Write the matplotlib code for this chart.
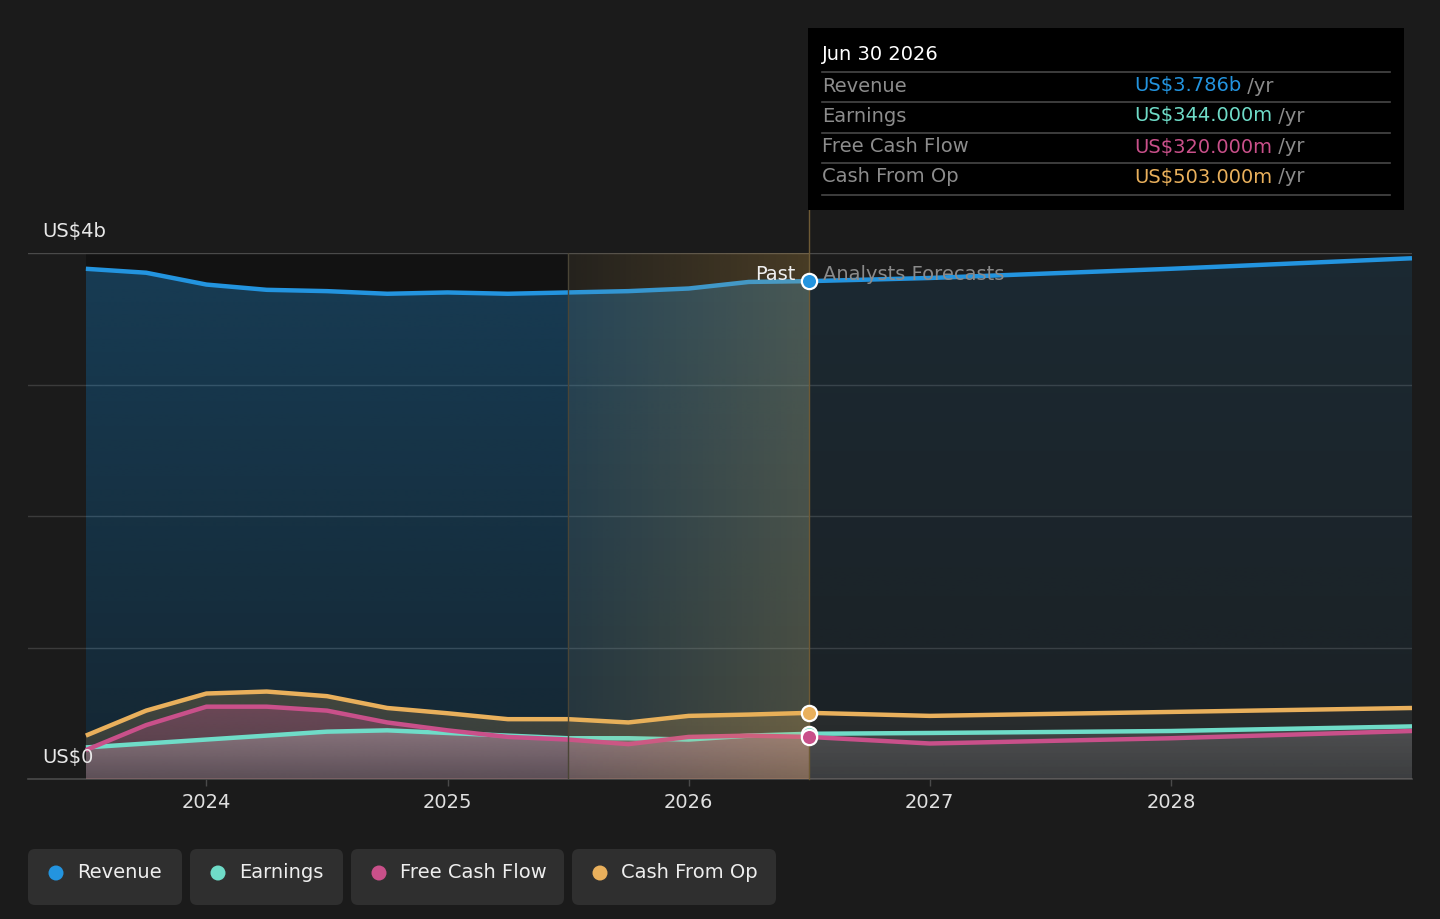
import numpy as np
import matplotlib
matplotlib.use("Agg")
import matplotlib.pyplot as plt
import matplotlib.colors as mcolors
from matplotlib.patches import FancyBboxPatch, Rectangle, Circle
from matplotlib.lines import Line2D
from matplotlib.text import Annotation
from matplotlib.transforms import Affine2D

# ---------------- data (US$ billions) ----------------
past_x = [2023.5, 2023.75, 2024.0, 2024.25, 2024.5, 2024.75, 2025.0,
          2025.25, 2025.5, 2025.75, 2026.0, 2026.25, 2026.5]
fc_x = [2026.5, 2027.0, 2028.0, 2029.0]

revenue_past = [3.88, 3.85, 3.76, 3.72, 3.71, 3.69, 3.70, 3.69, 3.70, 3.71, 3.73, 3.78, 3.786]
revenue_fc = [3.786, 3.81, 3.88, 3.96]
earnings_past = [0.24, 0.27, 0.30, 0.33, 0.36, 0.37, 0.35, 0.33, 0.31, 0.31, 0.30, 0.33, 0.344]
earnings_fc = [0.344, 0.35, 0.365, 0.40]
fcf_past = [0.22, 0.41, 0.55, 0.55, 0.52, 0.43, 0.37, 0.32, 0.30, 0.265, 0.32, 0.33, 0.32]
fcf_fc = [0.32, 0.27, 0.31, 0.365]
cfo_past = [0.33, 0.52, 0.65, 0.665, 0.63, 0.54, 0.50, 0.455, 0.455, 0.43, 0.48, 0.49, 0.503]
cfo_fc = [0.503, 0.48, 0.51, 0.54]

series_names = ["Revenue", "Earnings", "Free Cash Flow", "Cash From Op"]
series_colors = ["#2394df", "#6fdcc8", "#c9508a", "#e9b05c"]
tooltip_date = "Jun 30 2026"
tooltip_values = ["US$3.786b", "US$344.000m", "US$320.000m", "US$503.000m"]
year_ticks = [2024, 2025, 2026, 2027, 2028]
highlight_start = 2025.5
today = 2026.5

BG = "#1b1b1b"
W, H = 1440, 919
FS = 14


def grad_fill(ax, x, y, color, a_top, a_bot, z):
    # area under a line, alpha fading from top to bottom
    poly = ax.fill_between(x, y, 0, color="none", lw=0)
    rgb = mcolors.to_rgb(color)
    img = np.zeros((200, 1, 4))
    img[:, :, :3] = rgb
    img[:, 0, 3] = np.linspace(a_top, a_bot, 200)
    im = ax.imshow(img, aspect="auto", extent=[min(x), max(x), 0, max(y)],
                   origin="upper", zorder=z, interpolation="bilinear")
    im.set_clip_path(poly.get_paths()[0], ax.transData)


fig = plt.figure(figsize=(14.4, 9.19), dpi=100, facecolor=BG)
# pixel coordinates with origin top-left, for tooltip and legend boxes
px = Affine2D().scale(1 / W, -1 / H).translate(0, 1) + fig.transFigure

ax = fig.add_axes([28 / W, 1 - 779 / H, 1384 / W, 526 / H])
ax.set_facecolor(BG)

# darker past band
ax.axvspan(past_x[0], highlight_start, color="black", alpha=0.32, lw=0, zorder=0)

# gridlines
for g in [1, 2, 3, 4]:
    ax.axhline(g, color="#3b3b3b" if g < 4 else "#4a4a4a", lw=1, zorder=1)

# area fills: past
grad_fill(ax, past_x, revenue_past, series_colors[0], 0.32, 0.16, 2)
grad_fill(ax, past_x, cfo_past, series_colors[3], 0.22, 0.14, 3)
grad_fill(ax, past_x, fcf_past, series_colors[2], 0.32, 0.18, 4)
grad_fill(ax, past_x, earnings_past, "#d8d8d8", 0.32, 0.12, 5)
# area fills: forecast
grad_fill(ax, fc_x, revenue_fc, series_colors[0], 0.12, 0.05, 2)
grad_fill(ax, fc_x, cfo_fc, "#b0a080", 0.10, 0.06, 3)
grad_fill(ax, fc_x, fcf_fc, "#c0a0b0", 0.10, 0.06, 4)
grad_fill(ax, fc_x, earnings_fc, "#d0d0d0", 0.16, 0.10, 5)

# lines
pairs = [(revenue_past, revenue_fc), (earnings_past, earnings_fc),
         (fcf_past, fcf_fc), (cfo_past, cfo_fc)]
for i in range(4):
    p, f = pairs[i]
    ax.plot(past_x, p, color=series_colors[i], lw=3.2, solid_joinstyle="round",
            solid_capstyle="butt", zorder=6)
    ax.plot(fc_x, f, color=series_colors[i], lw=3.2, solid_joinstyle="round",
            solid_capstyle="butt", zorder=6)

# highlight gradient between highlight_start and today
himg = np.zeros((1, 200, 4))
himg[:, :, :3] = mcolors.to_rgb("#e8b04a")
himg[0, :, 3] = np.linspace(0.05, 0.22, 200)
ax.imshow(himg, aspect="auto", extent=[highlight_start, today, 0, 4],
          origin="upper", zorder=7, interpolation="bilinear")
ax.axvline(highlight_start, color="#4a4536", lw=1, zorder=7)
ax.plot([today, today], [0, 4.33], color="#6e5a35", lw=1, zorder=7, clip_on=False)

# markers at today
for i in [3, 1, 2, 0]:
    p, f = pairs[i]
    ax.plot([today], [p[-1]], "o", ms=11, mfc=series_colors[i], mec="white",
            mew=1.6, zorder=9)

ax.set_xlim(2023.26, 2029.0)
ax.set_ylim(0, 4)

for s in ["top", "right", "left"]:
    ax.spines[s].set_visible(False)
ax.spines["bottom"].set_color("#4a4a4a")
ax.spines["bottom"].set_linewidth(1.2)
ax.set_yticks([])
ax.set_xticks(year_ticks)
ax.set_xticklabels([str(y) for y in year_ticks])
ax.tick_params(axis="x", colors="#4a4a4a", labelcolor="#e0e0e0", labelsize=FS,
               length=5, width=1, pad=5)

# y labels
ax.annotate("US$4b", xy=(0, 4), xycoords=("axes fraction", "data"),
            xytext=(14, 21), textcoords="offset pixels", color="#e8e8e8",
            fontsize=FS, va="center", ha="left")
ax.annotate("US$0", xy=(0, 0), xycoords=("axes fraction", "data"),
            xytext=(14, 21), textcoords="offset pixels", color="#e8e8e8",
            fontsize=FS, va="center", ha="left", zorder=10)

# past / forecast labels
ax.annotate("Past", xy=(today, revenue_past[-1]), xytext=(-14, 7),
            textcoords="offset pixels", color="#f0f0f0", fontsize=FS,
            ha="right", va="center", zorder=10)
ax.annotate("Analysts Forecasts", xy=(today, revenue_past[-1]), xytext=(14, 7),
            textcoords="offset pixels", color="#8a8a8a", fontsize=FS,
            ha="left", va="center", zorder=10)

# tooltip
fig.add_artist(Rectangle((808, 28), 596, 182, transform=px, facecolor="black",
                         edgecolor="none", zorder=1))
fig.text(822, 55, tooltip_date, transform=px, color="white", fontsize=FS,
         va="center", ha="left", zorder=3)
for ly in [72, 102, 133, 163, 195]:
    fig.add_artist(Line2D([822, 1390], [ly, ly], transform=px, color="#474747",
                          lw=1.2, zorder=2))
row_y = [86, 116, 147, 177]
for i, name in enumerate(series_names):
    fig.text(822, row_y[i], name, transform=px, color="#8c8c8c", fontsize=FS,
             va="center", ha="left", zorder=3)
    t = fig.text(1134, row_y[i], tooltip_values[i], transform=px,
                 color=series_colors[i], fontsize=FS, va="center", ha="left", zorder=3)
    fig.add_artist(Annotation(" /yr", xy=(1, 0.5), xycoords=t, color="#8c8c8c",
                              fontsize=FS, va="center", ha="left", zorder=3))

# legend pills
pills = [(28, 182), (190, 343), (351, 564), (572, 776)]
for i, name in enumerate(series_names):
    x0, x1 = pills[i]
    fig.add_artist(FancyBboxPatch((x0, 849), x1 - x0, 56,
                                  boxstyle="round,pad=0,rounding_size=7",
                                  transform=px, facecolor="#2f2f2f",
                                  edgecolor="none", zorder=1))
    fig.add_artist(Circle((x0 + 28, 873), 7.5, transform=px,
                          facecolor=series_colors[i], edgecolor="none", zorder=2))
    fig.text(x0 + 49, 873, name, transform=px, color="#eeeeee", fontsize=FS,
             va="center", ha="left", zorder=3)

fig.savefig("out.png", dpi=100, facecolor=BG)
